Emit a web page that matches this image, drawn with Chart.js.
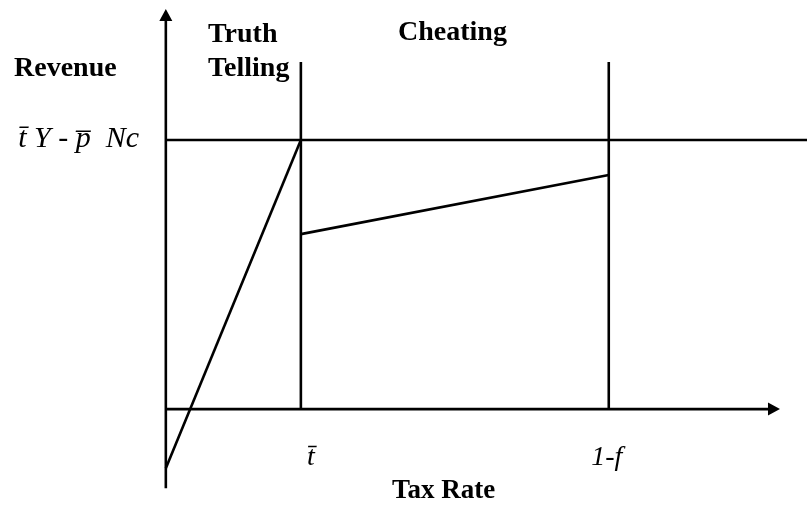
<!DOCTYPE html>
<html>
<head>
<meta charset="utf-8">
<script src="https://cdn.jsdelivr.net/npm/chart.js@4"></script>
<style>
  html, body { margin: 0; padding: 0; background: #fff; }
  #wrap { width: 807px; height: 510px; position: relative; }
</style>
</head>
<body>
<div id="wrap"><canvas id="revenueChart"></canvas></div>
<script>
// Tax rate (x) and revenue (y) values
const truthRates = [0, 0.25];
const truthRevenue = [-22, 100];
const cheatRates = [0.25, 0.82];
const cheatRevenue = [65, 87];
const maxRevenue = 100;
const dividerRates = [0.25, 0.82];
const dividerTop = 129;
const tickRates = [0.25, 0.82];
const tickLabels = ['t\u0304', '1-f'];
const xAxisEnd = 1.137;
const yAxisRange = [-29.4, 148.7];

const toPoints = (xs, ys) => xs.map((x, i) => ({ x: x, y: ys[i] }));

const lineStyle = {
    showLine: true,
    borderColor: '#000',
    borderWidth: 2.6,
    pointRadius: 0,
    fill: false,
    clip: false
};

const datasets = [
    Object.assign({ data: toPoints(truthRates, truthRevenue) }, lineStyle),
    Object.assign({ data: toPoints(cheatRates, cheatRevenue) }, lineStyle),
    Object.assign({ data: toPoints([0, 1.187], [maxRevenue, maxRevenue]) }, lineStyle)
];
dividerRates.forEach(r => {
    datasets.push(Object.assign({ data: toPoints([r, r], [0, dividerTop]) }, lineStyle));
});

// axes with arrow heads, plus the text labels
const diagramPlugin = {
    id: 'diagram',
    afterDatasetsDraw(chart) {
        const ctx = chart.ctx;
        const xs = chart.scales.x, ys = chart.scales.y;
        const x0 = xs.getPixelForValue(0), y0 = ys.getPixelForValue(0);
        const xEnd = xs.getPixelForValue(xAxisEnd);
        const yTop = ys.getPixelForValue(yAxisRange[1]);
        const yBot = ys.getPixelForValue(yAxisRange[0]);

        ctx.save();
        ctx.strokeStyle = '#000';
        ctx.fillStyle = '#000';
        ctx.lineWidth = 2.6;
        ctx.beginPath();
        ctx.moveTo(x0, yBot);
        ctx.lineTo(x0, yTop + 10);
        ctx.moveTo(x0, y0);
        ctx.lineTo(xEnd - 10, y0);
        ctx.stroke();

        // arrow heads
        ctx.beginPath();
        ctx.moveTo(x0, yTop);
        ctx.lineTo(x0 - 6.5, yTop + 12);
        ctx.lineTo(x0 + 6.5, yTop + 12);
        ctx.closePath();
        ctx.moveTo(xEnd, y0);
        ctx.lineTo(xEnd - 12, y0 - 6.5);
        ctx.lineTo(xEnd - 12, y0 + 6.5);
        ctx.closePath();
        ctx.fill();

        const serif = '"Liberation Serif", "Times New Roman", serif';
        ctx.textBaseline = 'alphabetic';
        ctx.textAlign = 'left';
        ctx.font = 'bold 28px ' + serif;
        ctx.fillText('Revenue', 14, 76);
        ctx.fillText('Truth', 208, 42);
        ctx.fillText('Telling', 208, 76);
        ctx.fillText('Cheating', 398, 40);
        ctx.font = 'bold 27px ' + serif;
        ctx.fillText('Tax Rate', 392, 498);

        ctx.font = 'italic 30px ' + serif;
        ctx.textAlign = 'right';
        ctx.fillText('t\u0304 Y - p\u0305  Nc', 139, ys.getPixelForValue(maxRevenue) + 7);

        ctx.font = 'italic 28px ' + serif;
        ctx.textAlign = 'center';
        tickRates.forEach((r, i) => {
            const dx = i === 0 ? 10 : -2;
            ctx.fillText(tickLabels[i], xs.getPixelForValue(r) + dx, 465);
        });
        ctx.restore();
    }
};

new Chart(document.getElementById('revenueChart'), {
    type: 'scatter',
    data: { datasets: datasets },
    options: {
        responsive: true,
        maintainAspectRatio: false,
        animation: false,
        layout: { padding: 0 },
        plugins: {
            legend: { display: false },
            tooltip: { enabled: false }
        },
        scales: {
            x: { type: 'linear', display: false, min: -0.307, max: 1.187 },
            y: { type: 'linear', display: false, min: -37.5, max: 152 }
        }
    },
    plugins: [diagramPlugin]
});
</script>
</body>
</html>
